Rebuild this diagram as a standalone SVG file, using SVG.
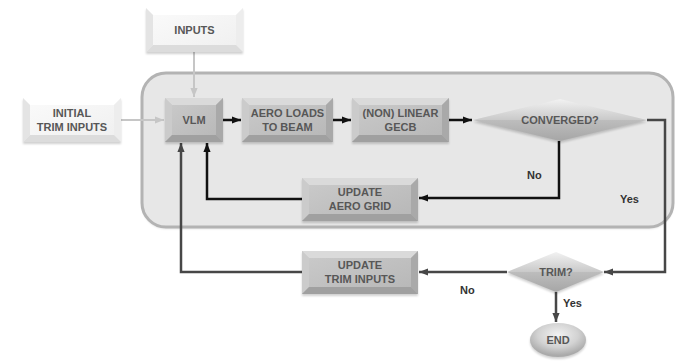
<svg xmlns="http://www.w3.org/2000/svg" width="682" height="361" viewBox="0 0 682 361">
  <defs>
    <style>
      .ft { fill: #dadada; }
      .fl { fill: #cbcbcb; }
      .fr { fill: #a9a9a9; }
      .fb { fill: #a0a0a0; }
      .fc { fill: url(#gBox); }
      .w .ft { fill: #ffffff; }
      .w .fl { fill: #e4e4e4; }
      .w .fr { fill: #ededed; }
      .w .fb { fill: #dcdcdc; }
      .w .fc { fill: url(#wBox); }
      .shadow { fill: #000; opacity: 0.18; filter: url(#blur); }
      .lbl { font-family: "Liberation Sans", Arial, sans-serif; font-weight: bold; font-size: 11px; fill: #575757; text-anchor: middle; }
      .note { font-family: "Liberation Sans", Arial, sans-serif; font-weight: bold; font-size: 11px; fill: #333; }
      .c { fill: none; stroke-width: 2.5; }
      .k { stroke: #111; }
      .d { stroke: #474747; }
      .l { stroke: #c6c6c6; stroke-width: 2; }
    </style>
    <linearGradient id="gBox" x1="0" y1="0" x2="1" y2="1">
      <stop offset="0" stop-color="#cbcbcb"/>
      <stop offset="1" stop-color="#b6b6b6"/>
    </linearGradient>
    <linearGradient id="wBox" x1="0" y1="0" x2="1" y2="1">
      <stop offset="0" stop-color="#fbfbfb"/>
      <stop offset="1" stop-color="#efefef"/>
    </linearGradient>
    <linearGradient id="dTop" x1="0" y1="0" x2="0" y2="1">
      <stop offset="0" stop-color="#f2f2f2"/>
      <stop offset="1" stop-color="#c9c9c9"/>
    </linearGradient>
    <linearGradient id="dBot" x1="0" y1="0" x2="0" y2="1">
      <stop offset="0" stop-color="#bdbdbd"/>
      <stop offset="1" stop-color="#a6a6a6"/>
    </linearGradient>
    <radialGradient id="eFill" cx="0.5" cy="0.35" r="0.6">
      <stop offset="0" stop-color="#f2f2f2"/>
      <stop offset="0.6" stop-color="#d2d2d2"/>
      <stop offset="1" stop-color="#aaaaaa"/>
    </radialGradient>
    <filter id="blur" x="-10%" y="-20%" width="120%" height="140%">
      <feGaussianBlur stdDeviation="1.2"/>
    </filter>
    <marker id="ak" viewBox="0 0 10 10" refX="10" refY="5" markerWidth="9" markerHeight="9" markerUnits="userSpaceOnUse" orient="auto">
      <path d="M0,1 L10,5 L0,9 z" fill="#111"/>
    </marker>
    <marker id="ad" viewBox="0 0 10 10" refX="10" refY="5" markerWidth="9" markerHeight="9" markerUnits="userSpaceOnUse" orient="auto">
      <path d="M0,1 L10,5 L0,9 z" fill="#474747"/>
    </marker>
    <marker id="al" viewBox="0 0 10 10" refX="10" refY="5" markerWidth="9" markerHeight="9" markerUnits="userSpaceOnUse" orient="auto">
      <path d="M0,1 L10,5 L0,9 z" fill="#c6c6c6"/>
    </marker>
  </defs>

  <rect width="682" height="361" fill="#ffffff"/>

  <!-- inner iteration container -->
  <g id="loop-panel">
    <rect x="142" y="75" width="531" height="154" rx="24" fill="#000" opacity="0.12" filter="url(#blur)"/>
    <rect x="142" y="73" width="531" height="154" rx="24" fill="#e7e7e7" stroke="#b3b3b3" stroke-width="3"/>
  </g>

  <!-- connectors -->
  <g id="connectors">
    <path class="c l" d="M194,52 V97" marker-end="url(#al)"/>
    <path class="c l" d="M121,120 H164" marker-end="url(#al)"/>
    <path class="c k" d="M223,120 H241" marker-end="url(#ak)"/>
    <path class="c k" d="M333,120 H351" marker-end="url(#ak)"/>
    <path class="c k" d="M449,120 H472" marker-end="url(#ak)"/>
    <path class="c k" d="M559,141 V198 H419" marker-end="url(#ak)"/>
    <path class="c k" d="M302,199 H207 V143" marker-end="url(#ak)"/>
    <path class="c d" d="M647,120 H665 V272 H604" marker-end="url(#ad)"/>
    <path class="c d" d="M507,272 H419" marker-end="url(#ad)"/>
    <path class="c d" d="M302,272 H181 V143" marker-end="url(#ad)"/>
    <path class="c d" d="M556,292 V322" marker-end="url(#ad)"/>
    <text class="note" x="527" y="179">No</text>
    <text class="note" x="620" y="203">Yes</text>
    <text class="note" x="460" y="294">No</text>
    <text class="note" x="563" y="307">Yes</text>
  </g>

  <g id="inputs" class="w">
    <rect class="shadow" x="146" y="10" width="97" height="44"/>
    <rect class="fc" x="146" y="8" width="97" height="44"/>
    <polygon class="ft" points="146,8 243,8 236,15 153,15"/>
    <polygon class="fl" points="146,8 153,15 153,45 146,52"/>
    <polygon class="fr" points="243,8 243,52 236,45 236,15"/>
    <polygon class="fb" points="146,52 243,52 236,45 153,45"/>
    <text class="lbl" x="194.5" y="34">INPUTS</text>
  </g>

  <g id="initial-trim-inputs" class="w">
    <rect class="shadow" x="23" y="100" width="98" height="44"/>
    <rect class="fc" x="23" y="98" width="98" height="44"/>
    <polygon class="ft" points="23,98 121,98 114,105 30,105"/>
    <polygon class="fl" points="23,98 30,105 30,135 23,142"/>
    <polygon class="fr" points="121,98 121,142 114,135 114,105"/>
    <polygon class="fb" points="23,142 121,142 114,135 30,135"/>
    <text class="lbl" x="72" y="117">INITIAL</text>
    <text class="lbl" x="72" y="131">TRIM INPUTS</text>
  </g>

  <g id="vlm">
    <rect class="shadow" x="165" y="100" width="58" height="44"/>
    <rect class="fc" x="165" y="98" width="58" height="44"/>
    <polygon class="ft" points="165,98 223,98 216,105 172,105"/>
    <polygon class="fl" points="165,98 172,105 172,135 165,142"/>
    <polygon class="fr" points="223,98 223,142 216,135 216,105"/>
    <polygon class="fb" points="165,142 223,142 216,135 172,135"/>
    <text class="lbl" x="194" y="124">VLM</text>
  </g>

  <g id="aero-loads">
    <rect class="shadow" x="242" y="100" width="91" height="44"/>
    <rect class="fc" x="242" y="98" width="91" height="44"/>
    <polygon class="ft" points="242,98 333,98 326,105 249,105"/>
    <polygon class="fl" points="242,98 249,105 249,135 242,142"/>
    <polygon class="fr" points="333,98 333,142 326,135 326,105"/>
    <polygon class="fb" points="242,142 333,142 326,135 249,135"/>
    <text class="lbl" x="287.5" y="117">AERO LOADS</text>
    <text class="lbl" x="287.5" y="131">TO BEAM</text>
  </g>

  <g id="gecb">
    <rect class="shadow" x="352" y="100" width="97" height="44"/>
    <rect class="fc" x="352" y="98" width="97" height="44"/>
    <polygon class="ft" points="352,98 449,98 442,105 359,105"/>
    <polygon class="fl" points="352,98 359,105 359,135 352,142"/>
    <polygon class="fr" points="449,98 449,142 442,135 442,105"/>
    <polygon class="fb" points="352,142 449,142 442,135 359,135"/>
    <text class="lbl" x="400.5" y="117">(NON) LINEAR</text>
    <text class="lbl" x="400.5" y="131">GECB</text>
  </g>

  <g id="converged">
    <polygon class="shadow" points="473,122 560,101 647,122 560,143"/>
    <polygon points="473,120 560,99 647,120" fill="url(#dTop)"/>
    <polygon points="473,120 647,120 560,141" fill="url(#dBot)"/>
    <text class="lbl" x="560" y="124">CONVERGED?</text>
  </g>

  <g id="update-aero-grid">
    <rect class="shadow" x="302" y="180" width="116" height="43"/>
    <rect class="fc" x="302" y="178" width="116" height="43"/>
    <polygon class="ft" points="302,178 418,178 411,185 309,185"/>
    <polygon class="fl" points="302,178 309,185 309,214 302,221"/>
    <polygon class="fr" points="418,178 418,221 411,214 411,185"/>
    <polygon class="fb" points="302,221 418,221 411,214 309,214"/>
    <text class="lbl" x="360" y="196">UPDATE</text>
    <text class="lbl" x="360" y="210">AERO GRID</text>
  </g>

  <g id="update-trim-inputs">
    <rect class="shadow" x="302" y="253" width="116" height="43"/>
    <rect class="fc" x="302" y="251" width="116" height="43"/>
    <polygon class="ft" points="302,251 418,251 411,258 309,258"/>
    <polygon class="fl" points="302,251 309,258 309,287 302,294"/>
    <polygon class="fr" points="418,251 418,294 411,287 411,258"/>
    <polygon class="fb" points="302,294 418,294 411,287 309,287"/>
    <text class="lbl" x="360" y="269">UPDATE</text>
    <text class="lbl" x="360" y="283">TRIM INPUTS</text>
  </g>

  <g id="trim">
    <polygon class="shadow" points="507,274 556,254 604,274 556,294"/>
    <polygon points="507,272 556,252 604,272" fill="url(#dTop)"/>
    <polygon points="507,272 604,272 556,292" fill="url(#dBot)"/>
    <text class="lbl" x="556" y="276">TRIM?</text>
  </g>

  <g id="end">
    <ellipse class="shadow" cx="558" cy="342" rx="28" ry="17"/>
    <ellipse cx="558" cy="340" rx="28" ry="17" fill="url(#eFill)"/>
    <text class="lbl" x="558" y="344">END</text>
  </g>
</svg>
